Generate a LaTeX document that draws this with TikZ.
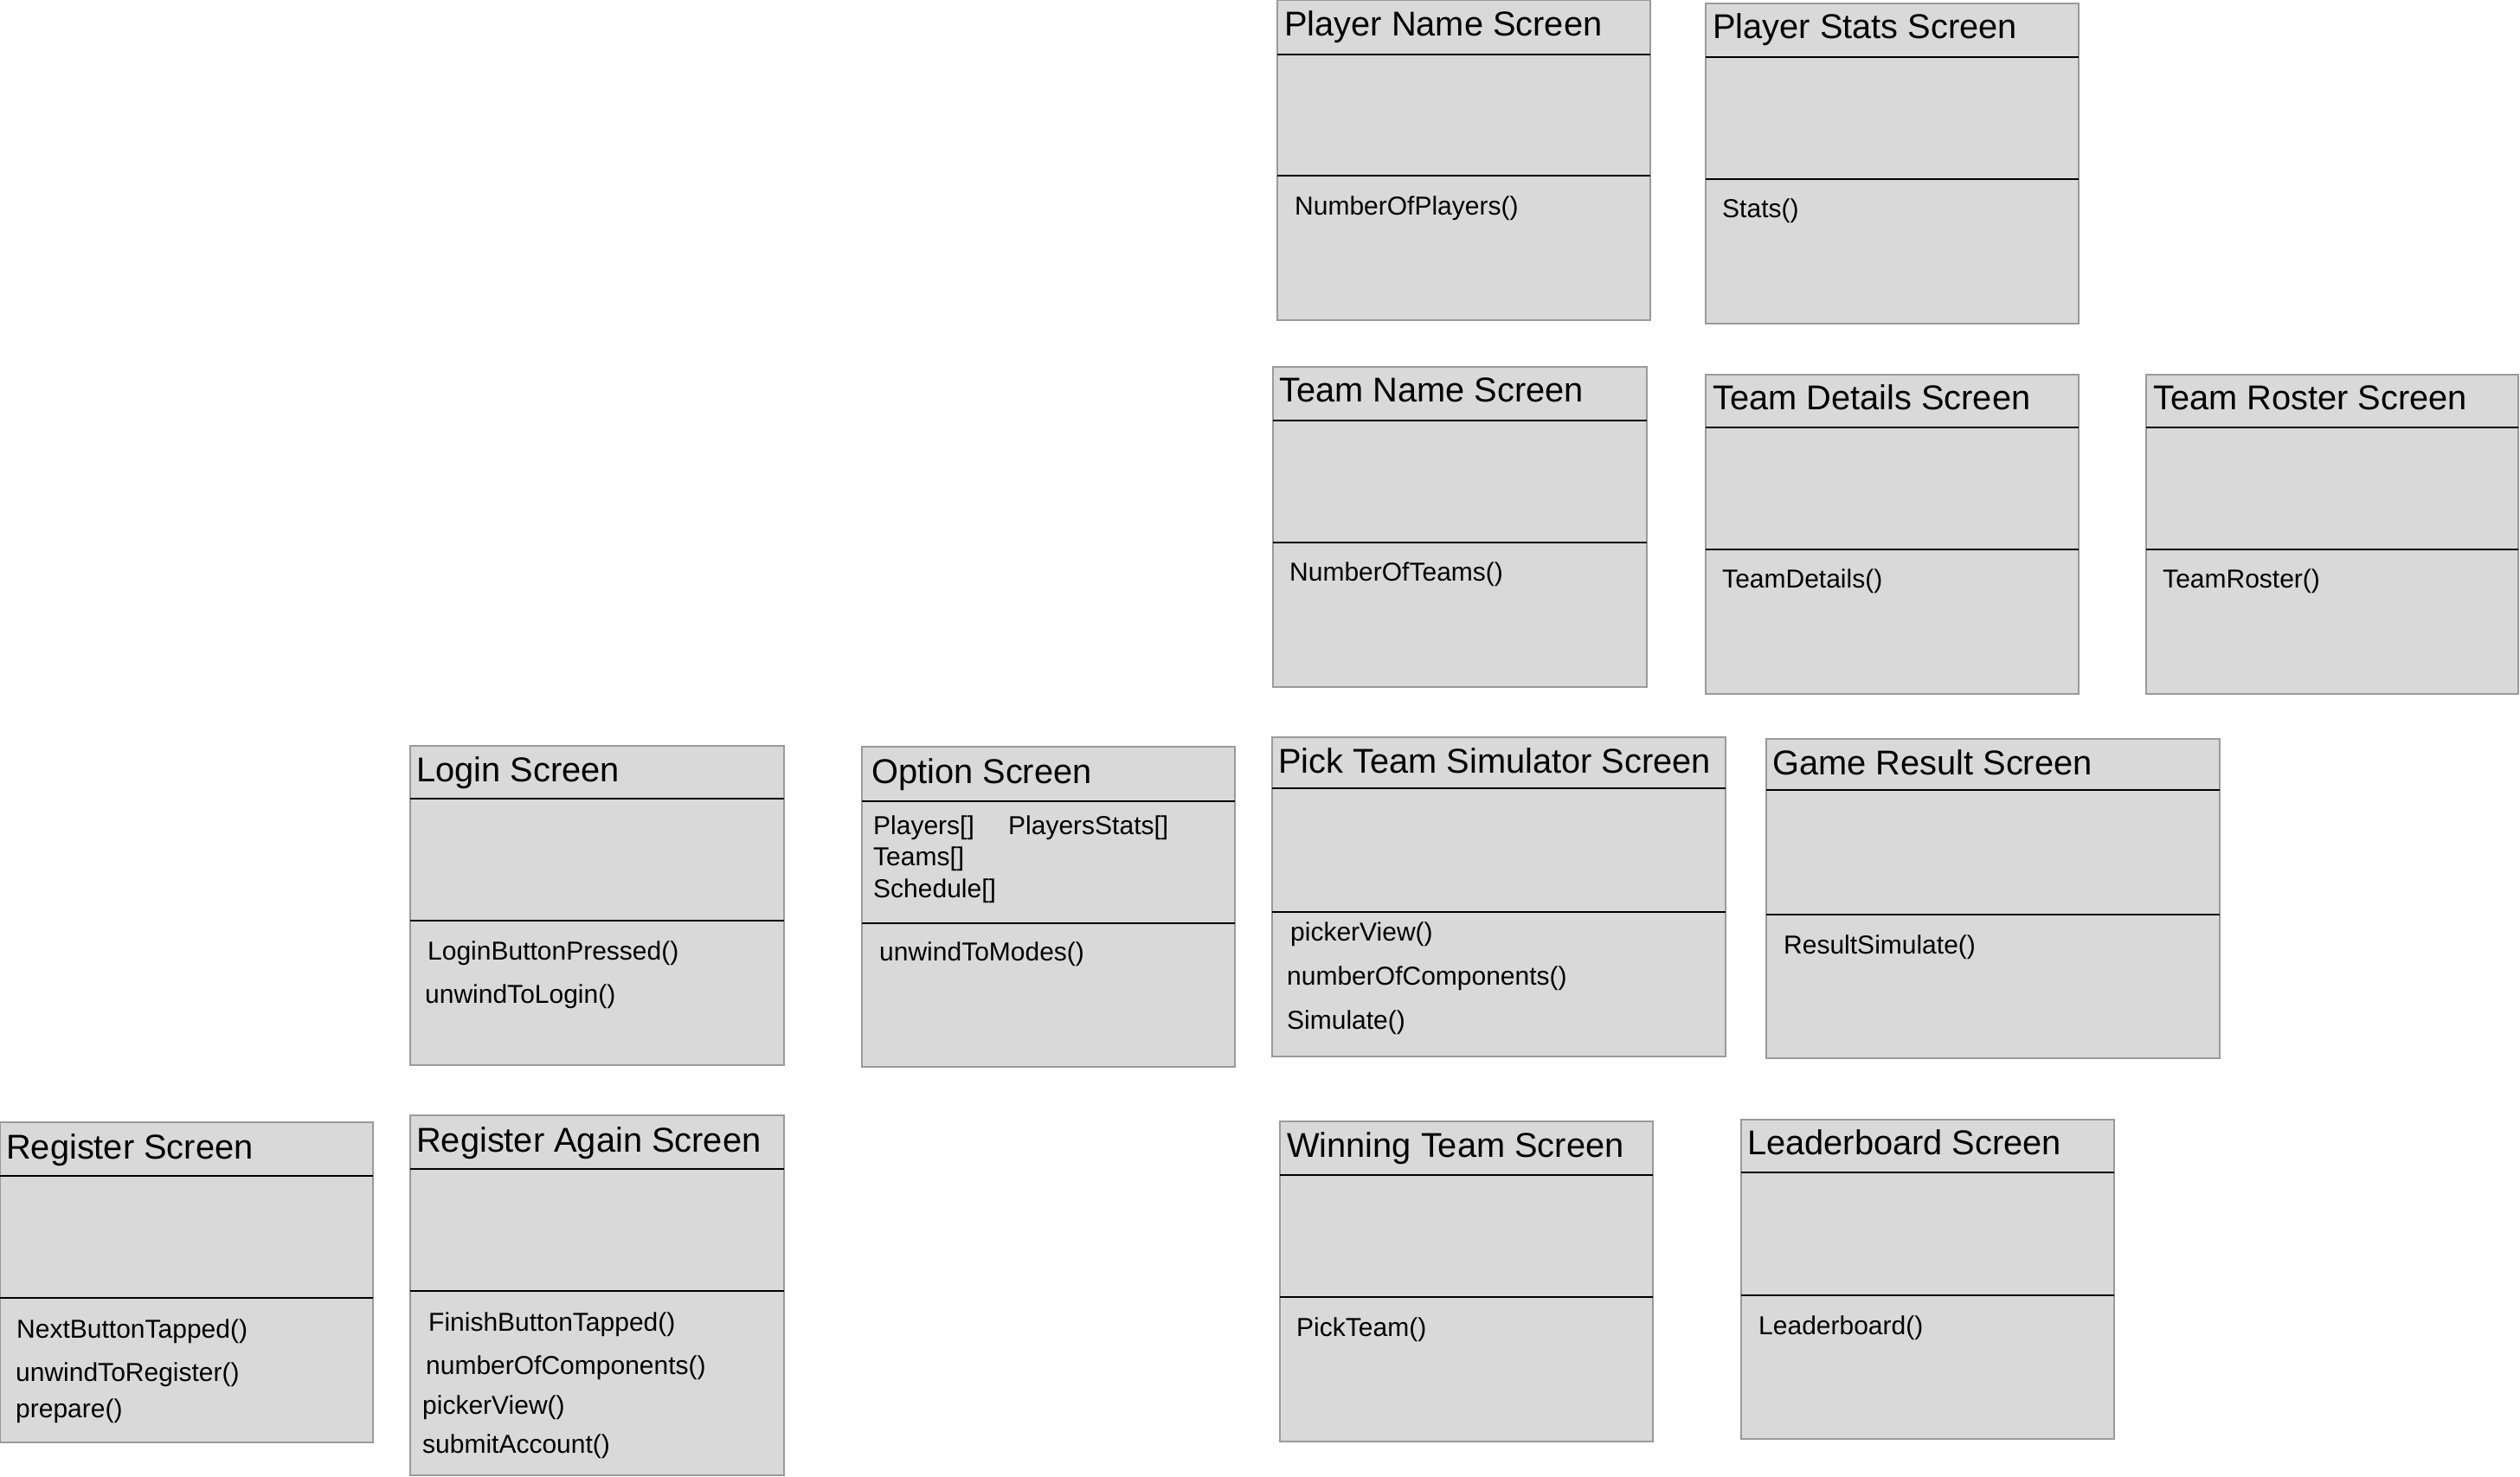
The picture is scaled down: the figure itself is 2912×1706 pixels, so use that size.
\documentclass[tikz,border=0pt]{standalone}
\usepackage{fontspec}
\setmainfont{Liberation Sans}
\definecolor{screenfill}{HTML}{D9D9D9}
\definecolor{screenedge}{HTML}{9A9A9A}
\begin{document}
\begin{tikzpicture}
[
    x=1pt, y=-1pt,
    screen/.style={draw=screenedge, fill=screenfill, line width=1.5pt, anchor=north west, inner sep=0pt, outer sep=0pt},
    divider/.style={line width=1.5pt},
    screentitle/.style={anchor=base west, inner sep=0pt, font=\fontsize{39.8}{47}\selectfont},
    screenmethod/.style={anchor=base west, inner sep=0pt, font=\fontsize{30}{36}\selectfont},
]
\useasboundingbox (0,0) rectangle (2912,1706);

\node[screen, minimum width=431pt, minimum height=370pt] (playername) at (1476,0) {};
\draw[divider] ([yshift=-63pt]playername.north west) -- ([yshift=-63pt]playername.north east);
\draw[divider] ([yshift=-203pt]playername.north west) -- ([yshift=-203pt]playername.north east);
\node[screentitle] (playernametitle) at (1484,41) {Player Name Screen};
\node[screenmethod] (numberofplayers) at (1496,248) {NumberOfPlayers()};

\node[screen, minimum width=431pt, minimum height=370pt] (playerstats) at (1971,4) {};
\draw[divider] ([yshift=-62pt]playerstats.north west) -- ([yshift=-62pt]playerstats.north east);
\draw[divider] ([yshift=-203pt]playerstats.north west) -- ([yshift=-203pt]playerstats.north east);
\node[screentitle] (playerstatstitle) at (1979,44) {Player Stats Screen};
\node[screenmethod] (stats) at (1990,251) {Stats()};

\node[screen, minimum width=432pt, minimum height=370pt] (teamname) at (1471,424) {};
\draw[divider] ([yshift=-62pt]teamname.north west) -- ([yshift=-62pt]teamname.north east);
\draw[divider] ([yshift=-203pt]teamname.north west) -- ([yshift=-203pt]teamname.north east);
\node[screentitle] (teamnametitle) at (1478,464) {Team Name Screen};
\node[screenmethod] (numberofteams) at (1490,671) {NumberOfTeams()};

\node[screen, minimum width=431pt, minimum height=369pt] (teamdetails) at (1971,433) {};
\draw[divider] ([yshift=-61pt]teamdetails.north west) -- ([yshift=-61pt]teamdetails.north east);
\draw[divider] ([yshift=-202pt]teamdetails.north west) -- ([yshift=-202pt]teamdetails.north east);
\node[screentitle] (teamdetailstitle) at (1979,473) {Team Details Screen};
\node[screenmethod] (teamdetailsm) at (1990,679) {TeamDetails()};

\node[screen, minimum width=430pt, minimum height=369pt] (teamroster) at (2480,433) {};
\draw[divider] ([yshift=-61pt]teamroster.north west) -- ([yshift=-61pt]teamroster.north east);
\draw[divider] ([yshift=-202pt]teamroster.north west) -- ([yshift=-202pt]teamroster.north east);
\node[screentitle] (teamrostertitle) at (2488,473) {Team Roster Screen};
\node[screenmethod] (teamrosterm) at (2499,679) {TeamRoster()};

\node[screen, minimum width=432pt, minimum height=369pt] (login) at (474,862) {};
\draw[divider] ([yshift=-61pt]login.north west) -- ([yshift=-61pt]login.north east);
\draw[divider] ([yshift=-202pt]login.north west) -- ([yshift=-202pt]login.north east);
\node[screentitle] (logintitle) at (481,903) {Login Screen};
\node[screenmethod] (loginbuttonpressed) at (494,1109) {LoginButtonPressed()};
\node[screenmethod] (unwindtologin) at (491,1159) {unwindToLogin()};

\node[screen, minimum width=431pt, minimum height=370pt] (option) at (996,863) {};
\draw[divider] ([yshift=-63pt]option.north west) -- ([yshift=-63pt]option.north east);
\draw[divider] ([yshift=-204pt]option.north west) -- ([yshift=-204pt]option.north east);
\node[screentitle] (optiontitle) at (1007,905) {Option Screen};
\node[screenmethod] (players) at (1009,964) {Players[]};
\node[screenmethod] (playersstats) at (1165,964) {PlayersStats[]};
\node[screenmethod] (teams) at (1009,1000) {Teams[]};
\node[screenmethod] (schedule) at (1009,1037) {Schedule[]};
\node[screenmethod] (unwindtomodes) at (1016,1110) {unwindToModes()};

\node[screen, minimum width=524pt, minimum height=369pt] (picksim) at (1470,852) {};
\draw[divider] ([yshift=-59pt]picksim.north west) -- ([yshift=-59pt]picksim.north east);
\draw[divider] ([yshift=-202pt]picksim.north west) -- ([yshift=-202pt]picksim.north east);
\node[screentitle] (picksimtitle) at (1477,893) {Pick Team Simulator Screen};
\node[screenmethod] (pickerview) at (1491,1087) {pickerView()};
\node[screenmethod] (numberofcomponents) at (1487,1138) {numberOfComponents()};
\node[screenmethod] (simulate) at (1487,1189) {Simulate()};

\node[screen, minimum width=524pt, minimum height=369pt] (gameresult) at (2041,854) {};
\draw[divider] ([yshift=-59pt]gameresult.north west) -- ([yshift=-59pt]gameresult.north east);
\draw[divider] ([yshift=-203pt]gameresult.north west) -- ([yshift=-203pt]gameresult.north east);
\node[screentitle] (gameresulttitle) at (2048,895) {Game Result Screen};
\node[screenmethod] (resultsimulate) at (2061,1102) {ResultSimulate()};

\node[screen, minimum width=431pt, minimum height=370pt] (register) at (0,1297) {};
\draw[divider] ([yshift=-62pt]register.north west) -- ([yshift=-62pt]register.north east);
\draw[divider] ([yshift=-203pt]register.north west) -- ([yshift=-203pt]register.north east);
\node[screentitle] (registertitle) at (7,1339) {Register Screen};
\node[screenmethod] (nextbuttontapped) at (19,1546) {NextButtonTapped()};
\node[screenmethod] (unwindtoregister) at (18,1596) {unwindToRegister()};
\node[screenmethod] (prepare) at (18,1638) {prepare()};

\node[screen, minimum width=432pt, minimum height=416pt] (registeragain) at (474,1289) {};
\draw[divider] ([yshift=-62pt]registeragain.north west) -- ([yshift=-62pt]registeragain.north east);
\draw[divider] ([yshift=-203pt]registeragain.north west) -- ([yshift=-203pt]registeragain.north east);
\node[screentitle] (registeragaintitle) at (481,1331) {Register Again Screen};
\node[screenmethod] (finishbuttontapped) at (495,1538) {FinishButtonTapped()};
\node[screenmethod] (numberofcomponentsb) at (492,1588) {numberOfComponents()};
\node[screenmethod] (pickerviewb) at (488,1634) {pickerView()};
\node[screenmethod] (submitaccount) at (488,1679) {submitAccount()};

\node[screen, minimum width=431pt, minimum height=370pt] (winningteam) at (1479,1296) {};
\draw[divider] ([yshift=-62pt]winningteam.north west) -- ([yshift=-62pt]winningteam.north east);
\draw[divider] ([yshift=-203pt]winningteam.north west) -- ([yshift=-203pt]winningteam.north east);
\node[screentitle] (winningteamtitle) at (1487,1337) {Winning Team Screen};
\node[screenmethod] (pickteam) at (1498,1544) {PickTeam()};

\node[screen, minimum width=431pt, minimum height=369pt] (leaderboard) at (2012,1294) {};
\draw[divider] ([yshift=-61pt]leaderboard.north west) -- ([yshift=-61pt]leaderboard.north east);
\draw[divider] ([yshift=-203pt]leaderboard.north west) -- ([yshift=-203pt]leaderboard.north east);
\node[screentitle] (leaderboardtitle) at (2019,1334) {Leaderboard Screen};
\node[screenmethod] (leaderboardm) at (2032,1542) {Leaderboard()};
\end{tikzpicture}
\end{document}
